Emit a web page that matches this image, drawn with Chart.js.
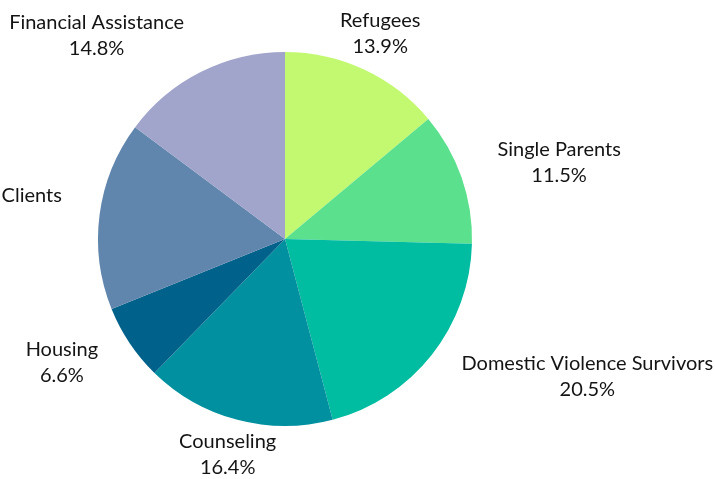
<!DOCTYPE html>
<html>
<head>
<meta charset="utf-8">
<script src="https://cdn.jsdelivr.net/npm/chart.js@4"></script>
<style>
  html, body { margin: 0; padding: 0; background: #ffffff; }
  #wrap { width: 715px; height: 479px; }
</style>
</head>
<body>
<div id="wrap"><canvas id="chart" width="715" height="479"></canvas></div>
<script>
const categories = ['Refugees', 'Single Parents', 'Domestic Violence Survivors', 'Counseling', 'Housing', 'Clients', 'Financial Assistance'];
const shares = [13.9, 11.5, 20.5, 16.4, 6.6, 16.3, 14.8];
const showPercent = [true, true, true, true, true, false, true];
const sliceColors = ['#c2f970', '#5be08d', '#00bca1', '#00909f', '#00628a', '#6186ae', '#a1a5cb'];

// outside labels: name + percent, aligned by side of the pie
const outsideLabels = {
  id: 'outsideLabels',
  afterDatasetsDraw(chart) {
    const ctx = chart.ctx;
    const arcs = chart.getDatasetMeta(0).data;
    ctx.save();
    ctx.font = '20px Lato, "Noto Sans", sans-serif';
    ctx.fillStyle = '#141414';
    ctx.textBaseline = 'middle';
    const lineH = 26;
    arcs.forEach((arc, i) => {
      const p = arc.getProps(['x', 'y', 'startAngle', 'endAngle', 'outerRadius'], true);
      const mid = (p.startAngle + p.endAngle) / 2;
      const d = p.outerRadius + 38;
      const ax = p.x + Math.cos(mid) * d;
      const ay = p.y + Math.sin(mid) * d - 2;
      const cx = Math.cos(mid);
      ctx.textAlign = Math.abs(cx) < 0.435 ? 'center' : (cx > 0 ? 'left' : 'right');
      ctx.fillText(categories[i], ax, ay - lineH / 2);
      if (showPercent[i]) {
        const pct = shares[i].toFixed(1) + '%';
        // percent line is centered under the name
        const w = ctx.measureText(categories[i]).width;
        let px = ax;
        if (ctx.textAlign === 'left') px = ax + w / 2;
        if (ctx.textAlign === 'right') px = ax - w / 2;
        ctx.textAlign = 'center';
        ctx.fillText(pct, px, ay + lineH / 2);
      }
    });
    ctx.restore();
  }
};

new Chart(document.getElementById('chart'), {
  type: 'pie',
  data: {
    labels: categories,
    datasets: [{
      data: shares,
      backgroundColor: sliceColors,
      borderWidth: 0
    }]
  },
  options: {
    responsive: false,
    animation: false,
    layout: { padding: { left: 98, right: 243, top: 52, bottom: 53 } },
    plugins: {
      legend: { display: false },
      tooltip: { enabled: false }
    }
  },
  plugins: [outsideLabels]
});
</script>
</body>
</html>
